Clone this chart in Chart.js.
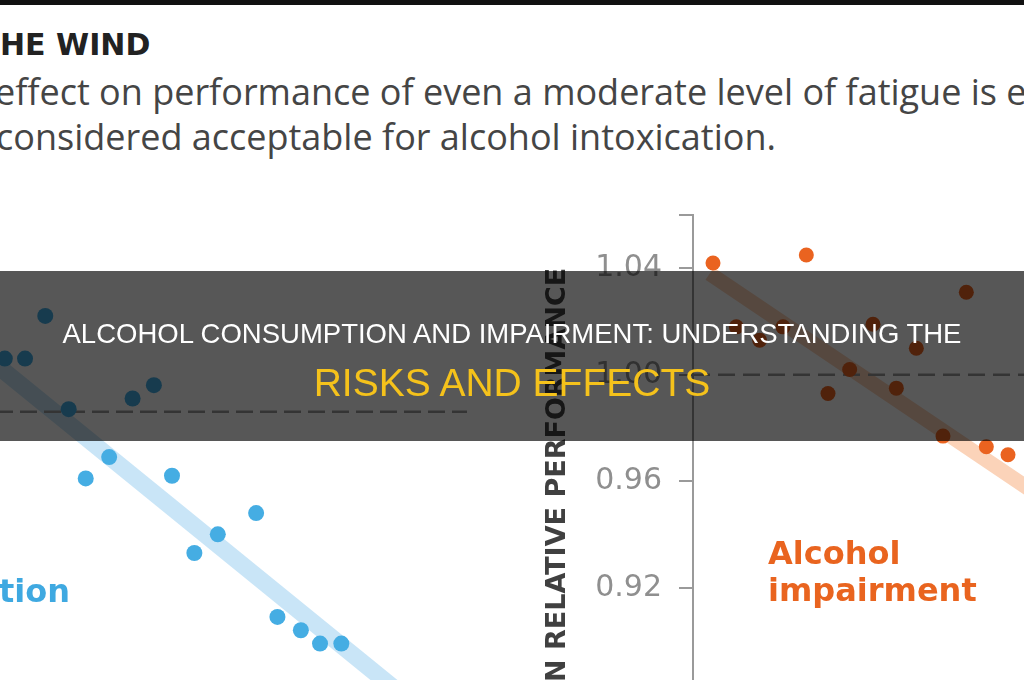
<!DOCTYPE html>
<html lang="en">
<head>
<meta charset="utf-8">
<title>Fatigue and alcohol: mean relative performance</title>
<script src="https://cdn.jsdelivr.net/npm/chart.js@4.4.1/dist/chart.umd.min.js"></script>
<style>
  html, body {
    margin: 0;
    padding: 0;
  }

  body {
    position: relative;
    width: 1024px;
    height: 680px;
    overflow: hidden;
    background: #fff;
  }

  .top-rule {
    position: absolute;
    left: 0;
    top: 0;
    width: 1024px;
    height: 5px;
    background: #111;
  }

  .txt {
    position: absolute;
    margin: 0;
    line-height: 1;
    white-space: nowrap;
  }

  #kicker {
    left: 0;
    top: 27px;
    font: bold 30px 'DejaVu Sans', sans-serif;
    color: #222;
  }

  .dek {
    font: 36px 'Open Sans', sans-serif;
    color: #454545;
  }

  #dek-1 {
    left: -5px;
    top: 67px;
  }

  #dek-2 {
    left: -4px;
    top: 112px;
  }

  canvas {
    position: absolute;
  }

  #fatigue-chart {
    left: -172px;
    top: 252px;
  }

  #alcohol-chart {
    left: 530px;
    top: 205px;
  }

  .series-label {
    font: bold 32px 'DejaVu Sans', sans-serif;
  }

  #label-alcohol-1 {
    left: 768px;
    top: 534px;
    color: #e9641f;
  }

  #label-alcohol-2 {
    left: 768px;
    top: 571px;
    color: #e9641f;
  }

  #label-fatigue {
    right: 954px;
    top: 572px;
    color: #3fa9e1;
  }

  .banner {
    position: absolute;
    left: 0;
    top: 271px;
    width: 1024px;
    height: 170px;
    background: rgba(0, 0, 0, 0.66);
  }

  .banner-line {
    left: 0;
    width: 1024px;
    text-align: center;
    font-family: 'Liberation Sans', Arial, sans-serif;
  }

  #banner-1 {
    top: 320px;
    font-size: 27.5px;
    color: #fff;
  }

  #banner-2 {
    top: 363px;
    font-size: 39px;
    color: #f5c21b;
  }
</style>
</head>
<body>
<div class="top-rule"></div>
<p class="txt" id="kicker">HE WIND</p>
<p class="txt dek" id="dek-1">effect on performance of even a moderate level of fatigue is equivalent</p>
<p class="txt dek" id="dek-2">considered acceptable for alcohol intoxication.</p>

<canvas id="fatigue-chart" width="639" height="586"></canvas>
<canvas id="alcohol-chart" width="563" height="596"></canvas>

<p class="txt series-label" id="label-fatigue">deprivation</p>
<p class="txt series-label" id="label-alcohol-1">Alcohol</p>
<p class="txt series-label" id="label-alcohol-2">impairment</p>

<div class="banner"></div>
<p class="txt banner-line" id="banner-1">ALCOHOL CONSUMPTION AND IMPAIRMENT: UNDERSTANDING THE</p>
<p class="txt banner-line" id="banner-2">RISKS AND EFFECTS</p>

<script>
'use strict';

// Sleep deprivation panel: hours awake vs mean relative performance
const fatigueHours = [8.3, 9.25, 10.2, 11.3, 12.1, 13.2, 14.3, 15.3, 16.15, 17.2, 18.3, 20.1, 21.1, 22.2, 23.1, 24.1];
const fatiguePerf = [1.020, 1.020, 1.036, 1.001, 0.975, 0.983, 1.005, 1.010, 0.976, 0.947, 0.954, 0.962, 0.923, 0.918, 0.913, 0.913];
const fatigueTrendHours = [6, 28];
const fatigueTrendPerf = [1.030, 0.887];

// Alcohol panel: blood alcohol concentration vs mean relative performance
const alcoholBac = [0.006, 0.013, 0.020, 0.027, 0.034, 0.0405, 0.047, 0.054, 0.061, 0.067, 0.075, 0.082, 0.088, 0.0945];
const alcoholPerf = [1.042, 1.018, 1.013, 1.018, 1.045, 0.993, 1.002, 1.019, 0.995, 1.010, 0.977, 1.031, 0.973, 0.970];
const alcoholTrendBac = [0.005, 0.12];
const alcoholTrendPerf = [1.038, 0.941];

const yTicks = [1.04, 1.00, 0.96, 0.92, 0.88];
const baseline = 1.00;

const BLUE = '#45ade3',
  BLUE_BAND = '#c9e5f7',
  ORANGE = '#ea6320',
  ORANGE_BAND = '#fbd3b9',
  DASH = '#9a9a9a';

const makePoints = (xs, ys) => xs.map((x, i) => ({ x: x, y: ys[i] }));

const baseOptions = () => ({
  responsive: false,
  animation: false,
  devicePixelRatio: 1,
  events: [],
  plugins: {
    legend: { display: false },
    tooltip: { enabled: false }
  }
});

//Fatigue chart (its axes sit off the left edge)
const fatigueCtx = document.querySelector('#fatigue-chart').getContext('2d');
const fatigueOptions = baseOptions();
fatigueOptions.layout = { autoPadding: false, padding: 0 };
fatigueOptions.scales = {
  x: { display: false, min: 0, max: 30 },
  y: { display: false, min: 0.84, max: 1.06 }
};

new Chart(fatigueCtx, {
  type: 'scatter',
  data: {
    datasets: [{
      data: makePoints(fatigueHours, fatiguePerf),
      backgroundColor: BLUE,
      borderWidth: 0,
      pointRadius: 8,
      order: 0
    }, {
      data: makePoints([0, 30], [baseline, baseline]),
      showLine: true,
      borderColor: DASH,
      borderWidth: 2.5,
      borderDash: [17, 7],
      pointRadius: 0,
      order: 1
    }, {
      data: makePoints(fatigueTrendHours, fatigueTrendPerf),
      showLine: true,
      borderColor: BLUE_BAND,
      borderWidth: 17,
      borderCapStyle: 'butt',
      pointRadius: 0,
      order: 2
    }]
  },
  options: fatigueOptions
});

//Alcohol chart with the visible y axis
const alcoholCtx = document.querySelector('#alcohol-chart').getContext('2d');
const alcoholOptions = baseOptions();
alcoholOptions.layout = { autoPadding: false, padding: { top: 10, left: 0, right: 0, bottom: 0 } };
alcoholOptions.scales = {
  x: { display: false, min: 0, max: 0.12 },
  y: {
    min: 0.84,
    max: 1.06,
    afterBuildTicks: (scale) => {
      scale.ticks = yTicks.concat([1.06]).map(v => ({ value: v }));
    },
    afterFit: (scale) => {
      scale.width = 163;
      scale.paddingTop = 0;
      scale.paddingBottom = 0;
    },
    grid: {
      drawOnChartArea: false,
      drawTicks: true,
      tickLength: 14,
      color: DASH,
      lineWidth: 2
    },
    border: { display: true, color: DASH, width: 2 },
    ticks: {
      padding: 17,
      color: '#8f8f8f',
      font: { family: 'DejaVu Sans', size: 30 },
      callback: (value) => yTicks.includes(value) ? value.toFixed(2) : ''
    },
    title: {
      display: true,
      text: 'MEAN RELATIVE PERFORMANCE',
      color: '#404040',
      font: { family: 'DejaVu Sans', size: 27, weight: 'bold' },
      padding: { top: 12, bottom: 0 }
    }
  }
};

new Chart(alcoholCtx, {
  type: 'scatter',
  data: {
    datasets: [{
      data: makePoints(alcoholBac, alcoholPerf),
      backgroundColor: ORANGE,
      borderWidth: 0,
      pointRadius: 7.5,
      order: 0
    }, {
      data: makePoints([0, 0.12], [baseline, baseline]),
      showLine: true,
      borderColor: DASH,
      borderWidth: 2.5,
      borderDash: [17, 8],
      pointRadius: 0,
      order: 1
    }, {
      data: makePoints(alcoholTrendBac, alcoholTrendPerf),
      showLine: true,
      borderColor: ORANGE_BAND,
      borderWidth: 15,
      borderCapStyle: 'butt',
      pointRadius: 0,
      order: 2
    }]
  },
  options: alcoholOptions
});
</script>
</body>
</html>
